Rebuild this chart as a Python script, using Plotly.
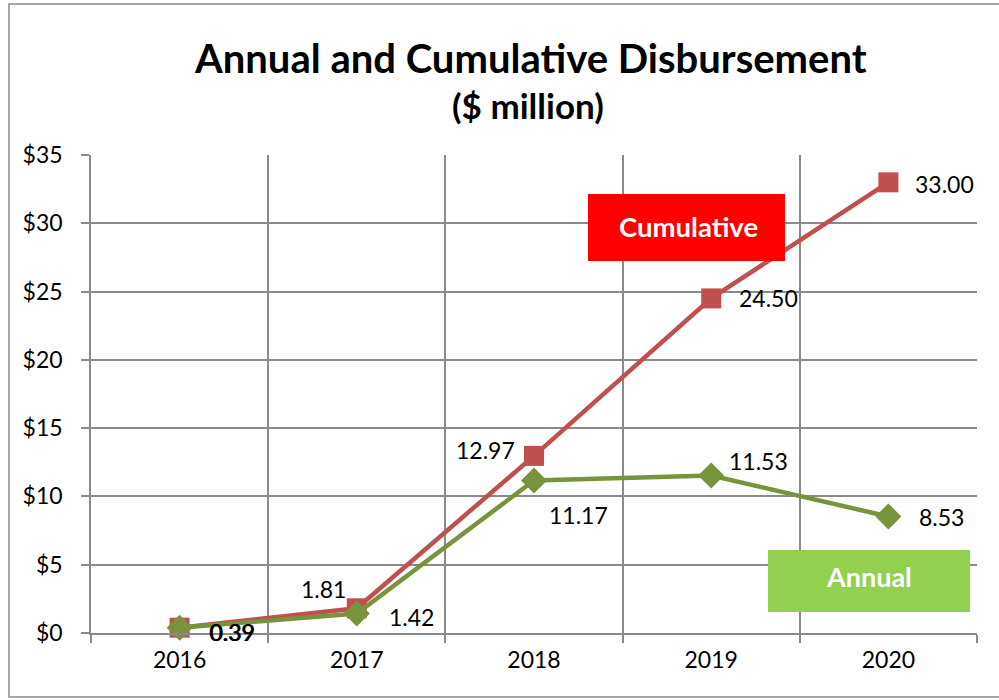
import plotly.graph_objects as go

years = ["2016", "2017", "2018", "2019", "2020"]
cumulative = [0.39, 1.81, 12.97, 24.50, 33.00]
annual = [0.39, 1.42, 11.17, 11.53, 8.53]
y_ticks = [0, 5, 10, 15, 20, 25, 30, 35]
y_labels = ["$" + str(v) for v in y_ticks]

# label placement styles: (xanchor, xshift, yshift)
cum_label_style = [("left", 28, -4), ("right", -9, 19), ("right", -17, 6),
                   ("left", 26, 0), ("left", 25, -2)]
ann_label_style = [("left", 27, -4), ("left", 30, -3), ("left", 13, -35),
                   ("left", 16, 15), ("left", 29, 0)]

FONT = "Lato"
RED = "#C0504D"
GREEN = "#77933C"
GRID = "#8A8A8A"

fig = go.Figure()
fig.add_trace(go.Scatter(
    x=years, y=cumulative, mode="lines+markers", name="Cumulative",
    line=dict(color=RED, width=4.5),
    marker=dict(symbol="square", size=20, color=RED),
    cliponaxis=False, hoverinfo="skip",
))
fig.add_trace(go.Scatter(
    x=years, y=annual, mode="lines+markers", name="Annual",
    line=dict(color=GREEN, width=4.5),
    marker=dict(symbol="diamond", size=20, color=GREEN),
    cliponaxis=False, hoverinfo="skip",
))

L, R, T, B = 91, 22, 155, 67
W, H = 999, 700
pw, ph = W - L - R, H - T - B


def px(x):
    return (x - L) / pw


def py(y):
    return (H - B - y) / ph


annotations = []
for series, styles in ((cumulative, cum_label_style), (annual, ann_label_style)):
    for i, (v, (xa, xs, ys)) in enumerate(zip(series, styles)):
        annotations.append(dict(
            x=i, y=v, xref="x", yref="y", text=f"{v:.2f}", showarrow=False,
            xanchor=xa, yanchor="middle", xshift=xs, yshift=ys,
            font=dict(family=FONT, size=23, color="#000000"),
        ))

annotations += [
    dict(text="<b>Annual and Cumulative Disbursement</b>", xref="paper", yref="paper",
         x=px(530), y=py(58), xanchor="center", yanchor="middle", showarrow=False,
         font=dict(family=FONT, size=40, color="#000000")),
    dict(text="<b>($ million)</b>", xref="paper", yref="paper",
         x=px(528), y=py(105), xanchor="center", yanchor="middle", showarrow=False,
         font=dict(family=FONT, size=35, color="#000000")),
    dict(text="<b>Cumulative</b>", xref="paper", yref="paper",
         x=px(688), y=py(226), xanchor="center", yanchor="middle", showarrow=False,
         font=dict(family=FONT, size=27.5, color="white")),
    dict(text="<b>Annual</b>", xref="paper", yref="paper",
         x=px(869), y=py(576), xanchor="center", yanchor="middle", showarrow=False,
         font=dict(family=FONT, size=27, color="white")),
]

fig.update_layout(
    width=W, height=H,
    margin=dict(l=L, r=R, t=T, b=B),
    paper_bgcolor="white", plot_bgcolor="white",
    showlegend=False,
    font=dict(family=FONT, color="#000000"),
    xaxis=dict(
        type="category", range=[-0.5, 4.5],
        tickson="boundaries", ticks="outside", ticklen=8, tickcolor=GRID, tickwidth=1.5,
        showgrid=True, gridcolor=GRID, gridwidth=1.5,
        showline=True, linecolor=GRID, linewidth=1.5,
        tickfont=dict(family=FONT, size=23, color="#000000"),
        ticklabelstandoff=6,
        fixedrange=True,
    ),
    yaxis=dict(
        range=[0, 35], tickvals=y_ticks, ticktext=y_labels,
        ticks="outside", ticklen=8, tickcolor=GRID, tickwidth=1.5,
        showgrid=True, gridcolor=GRID, gridwidth=1.5,
        showline=True, linecolor=GRID, linewidth=1.5,
        zeroline=False,
        tickfont=dict(family=FONT, size=23, color="#000000"),
        ticklabelstandoff=14,
        fixedrange=True,
    ),
    shapes=[
        dict(type="rect", xref="paper", yref="paper",
             x0=px(9), x1=px(1010), y0=py(697), y1=py(4),
             line=dict(color="#8A8A8A", width=1.5), fillcolor="rgba(0,0,0,0)", layer="below"),
        dict(type="rect", xref="paper", yref="paper",
             x0=px(588), x1=px(785), y0=py(261), y1=py(194),
             line=dict(width=0), fillcolor="#FF0000", layer="above"),
        dict(type="rect", xref="paper", yref="paper",
             x0=px(768), x1=px(970), y0=py(612), y1=py(550),
             line=dict(width=0), fillcolor="#92D050", layer="above"),
    ],
    annotations=annotations,
)

fig.write_html("out.html", config={"displayModeBar": False},
               post_script="document.body.style.margin='0';")
